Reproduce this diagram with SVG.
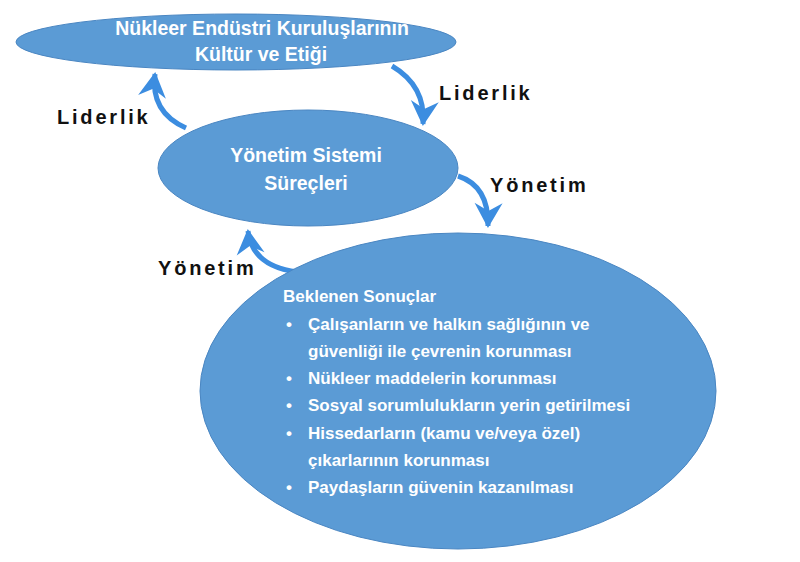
<svg xmlns="http://www.w3.org/2000/svg" width="800" height="562" viewBox="0 0 800 562">
<defs>
<style>
.node{fill:#5b9bd5;stroke:#4a86c2;stroke-width:1}
.nt{font-family:"Liberation Sans",Arial,sans-serif;font-weight:bold;fill:#ffffff;font-size:17px}
.nt2{font-family:"Liberation Sans",Arial,sans-serif;font-weight:bold;fill:#ffffff;font-size:19.5px}
.lbl{font-family:"Liberation Sans",Arial,sans-serif;font-weight:bold;fill:#111111;font-size:20px;letter-spacing:2.8px}
.arr{fill:none;stroke:#3c8de0;stroke-width:5;stroke-linecap:butt}
</style>
<marker id="ah" markerUnits="userSpaceOnUse" markerWidth="32" markerHeight="32" viewBox="-27 -16 32 32" refX="0" refY="0" orient="auto">
<path d="M2,0 L-23,-14 L-15,0 L-23,14 Z" fill="#3c8de0"/>
</marker>
</defs>
<rect width="800" height="562" fill="#ffffff"/>
<g id="connectors">
<path class="arr" d="M186,128 Q150,112 155,74" marker-end="url(#ah)"/>
<path class="arr" d="M392,66 Q426,86 423,124" marker-end="url(#ah)"/>
<path class="arr" d="M458,176 Q489,186 488,226" marker-end="url(#ah)"/>
<path class="arr" d="M297,272 Q252,266 248,231" marker-end="url(#ah)"/>
</g>
<g id="label-liderlik-left"><text class="lbl" x="57" y="124">Liderlik</text></g>
<g id="label-liderlik-right"><text class="lbl" x="439" y="100">Liderlik</text></g>
<g id="label-yonetim-right"><text class="lbl" x="490" y="192">Yönetim</text></g>
<g id="label-yonetim-left"><text class="lbl" x="158" y="275">Yönetim</text></g>
<g id="node-kultur">
<ellipse class="node" cx="236" cy="42" rx="220" ry="28"/>
<text class="nt2" x="262" y="35" text-anchor="middle">Nükleer Endüstri Kuruluşlarının</text>
<text class="nt2" x="261" y="61" text-anchor="middle">Kültür ve Etiği</text>
</g>
<g id="node-yonetim">
<ellipse class="node" cx="308" cy="168" rx="150" ry="58"/>
<text class="nt2" x="306" y="162" text-anchor="middle">Yönetim Sistemi</text>
<text class="nt2" x="306" y="190" text-anchor="middle">Süreçleri</text>
</g>
<g id="node-sonuclar">
<ellipse class="node" cx="458" cy="391" rx="258" ry="158"/>
<text class="nt" x="283" y="302">Beklenen Sonuçlar</text>
<text class="nt" x="286" y="330">•</text><text class="nt" x="308" y="330">Çalışanların ve halkın sağlığının ve</text>
<text class="nt" x="308" y="357">güvenliği ile çevrenin korunması</text>
<text class="nt" x="286" y="384">•</text><text class="nt" x="308" y="384">Nükleer maddelerin korunması</text>
<text class="nt" x="286" y="411">•</text><text class="nt" x="308" y="411">Sosyal sorumlulukların yerin getirilmesi</text>
<text class="nt" x="286" y="439">•</text><text class="nt" x="308" y="439">Hissedarların (kamu ve/veya özel)</text>
<text class="nt" x="308" y="466">çıkarlarının korunması</text>
<text class="nt" x="286" y="493">•</text><text class="nt" x="308" y="493">Paydaşların güvenin kazanılması</text>
</g>
</svg>
